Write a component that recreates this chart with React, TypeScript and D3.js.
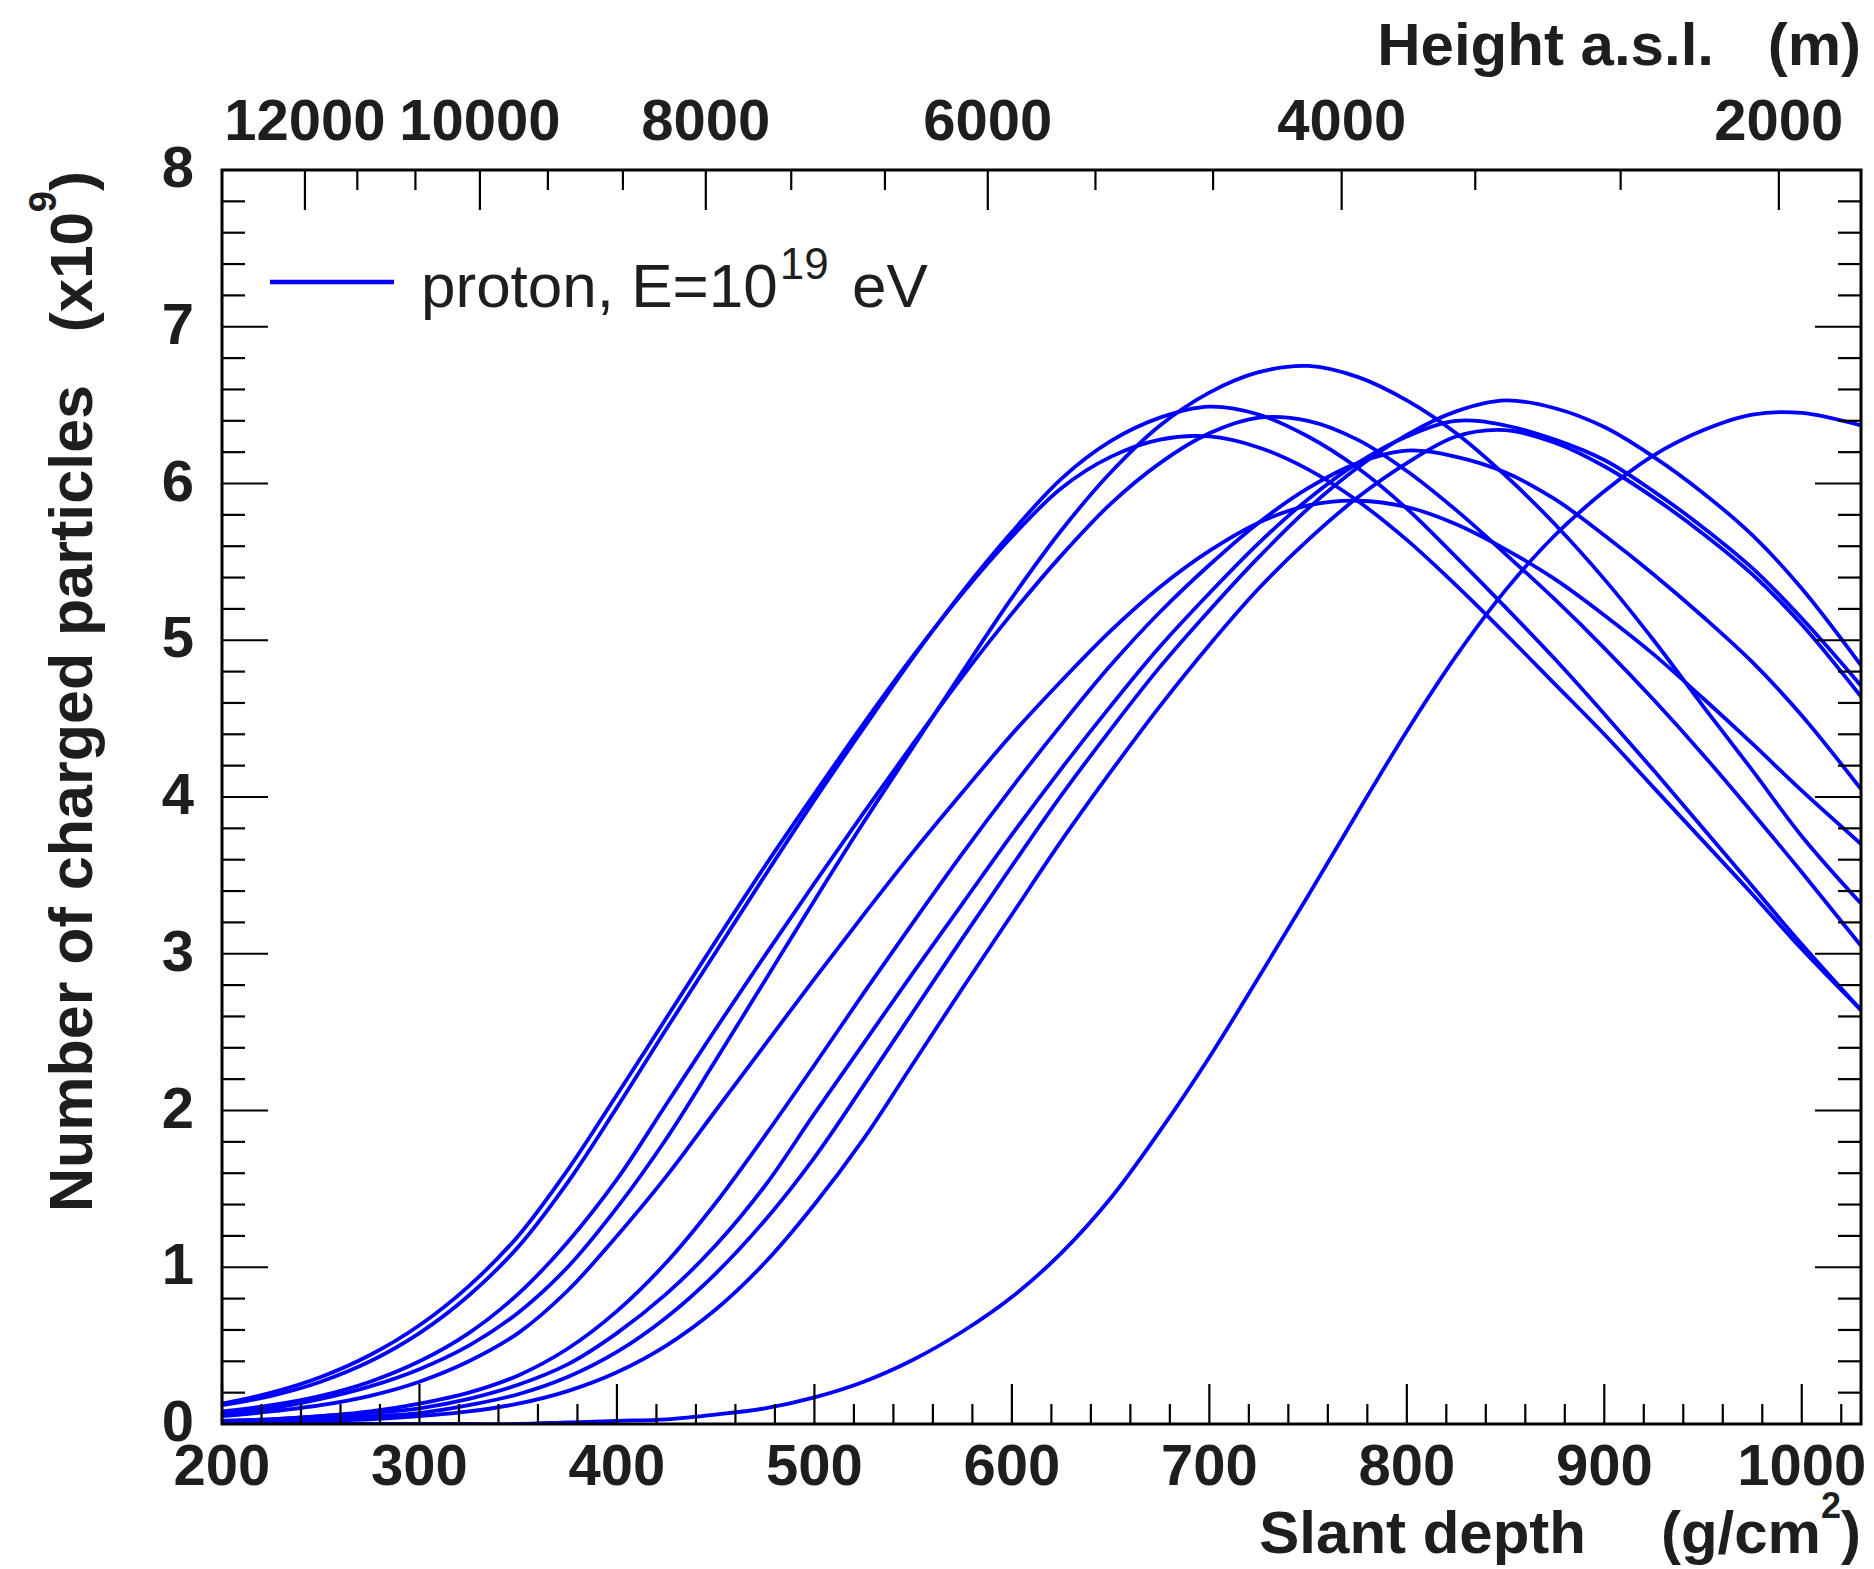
import React from 'react';
import * as d3 from 'd3';

// slant depth grid (g/cm^2)
const depthGrid = [200, 225, 250, 275, 300, 325, 350, 375, 400, 425, 450, 475, 500, 525, 550, 575, 600, 625, 650, 675, 700, 725, 750, 775, 800, 825, 850, 875, 900, 925, 950, 975, 1000, 1030];

// number of charged particles (x10^9) per shower
const showerA = [0.07, 0.10, 0.16, 0.24, 0.35, 0.50, 0.71, 1.00, 1.38, 1.82, 2.32, 2.83, 3.34, 3.84, 4.32, 4.80, 5.27, 5.70, 6.07, 6.37, 6.58, 6.71, 6.75, 6.68, 6.53, 6.32, 6.05, 5.74, 5.39, 5.00, 4.58, 4.17, 3.75, 3.32];
const showerB = [0.12, 0.18, 0.27, 0.40, 0.58, 0.82, 1.13, 1.54, 2.02, 2.52, 3.01, 3.50, 3.98, 4.44, 4.89, 5.31, 5.69, 6.03, 6.27, 6.42, 6.49, 6.44, 6.30, 6.10, 5.84, 5.53, 5.21, 4.88, 4.53, 4.17, 3.80, 3.43, 3.06, 2.64];
const showerC = [0.08, 0.12, 0.18, 0.27, 0.40, 0.58, 0.83, 1.16, 1.56, 2.04, 2.52, 2.99, 3.45, 3.90, 4.34, 4.77, 5.17, 5.54, 5.87, 6.13, 6.32, 6.42, 6.40, 6.28, 6.08, 5.83, 5.55, 5.26, 4.95, 4.62, 4.27, 3.90, 3.52, 3.05];
const showerD = [0.13, 0.20, 0.30, 0.44, 0.63, 0.88, 1.20, 1.62, 2.10, 2.59, 3.08, 3.56, 4.02, 4.47, 4.90, 5.30, 5.66, 5.97, 6.17, 6.28, 6.30, 6.23, 6.09, 5.89, 5.64, 5.35, 5.04, 4.72, 4.40, 4.06, 3.72, 3.38, 3.03, 2.64];
const showerE = [0.05, 0.08, 0.12, 0.18, 0.27, 0.40, 0.58, 0.85, 1.20, 1.58, 2.00, 2.42, 2.84, 3.25, 3.65, 4.03, 4.40, 4.74, 5.06, 5.34, 5.57, 5.75, 5.86, 5.89, 5.85, 5.74, 5.58, 5.39, 5.16, 4.91, 4.63, 4.34, 4.04, 3.70];
const showerF = [0.01, 0.02, 0.03, 0.05, 0.07, 0.12, 0.19, 0.30, 0.46, 0.68, 0.96, 1.30, 1.70, 2.16, 2.63, 3.10, 3.56, 4.01, 4.43, 4.83, 5.19, 5.53, 5.84, 6.10, 6.31, 6.46, 6.53, 6.48, 6.36, 6.17, 5.94, 5.67, 5.33, 4.84];
const showerG = [0.02, 0.03, 0.05, 0.07, 0.10, 0.16, 0.25, 0.38, 0.58, 0.83, 1.14, 1.52, 1.98, 2.43, 2.88, 3.32, 3.76, 4.18, 4.58, 4.96, 5.30, 5.62, 5.90, 6.13, 6.30, 6.40, 6.37, 6.28, 6.15, 5.95, 5.72, 5.46, 5.14, 4.71];
const showerH = [0.00, 0.01, 0.02, 0.03, 0.05, 0.08, 0.13, 0.21, 0.33, 0.50, 0.73, 1.03, 1.40, 1.82, 2.30, 2.78, 3.25, 3.72, 4.16, 4.58, 4.97, 5.33, 5.64, 5.91, 6.13, 6.30, 6.34, 6.26, 6.11, 5.91, 5.68, 5.42, 5.10, 4.64];
const showerI = [0.02, 0.03, 0.05, 0.08, 0.13, 0.20, 0.31, 0.48, 0.72, 1.03, 1.41, 1.84, 2.29, 2.75, 3.20, 3.64, 4.06, 4.46, 4.84, 5.18, 5.48, 5.75, 5.97, 6.13, 6.21, 6.17, 6.07, 5.90, 5.67, 5.42, 5.15, 4.86, 4.52, 4.05];
const showerJ = [0.00, 0.00, 0.00, 0.00, 0.00, 0.00, 0.00, 0.01, 0.02, 0.03, 0.06, 0.10, 0.17, 0.27, 0.41, 0.59, 0.81, 1.09, 1.44, 1.87, 2.34, 2.85, 3.37, 3.90, 4.42, 4.90, 5.32, 5.67, 5.95, 6.18, 6.34, 6.44, 6.45, 6.37];

const showers = [showerA, showerB, showerC, showerD, showerE, showerF, showerG, showerH, showerI, showerJ];

// axes
const xDomain = [200, 1030];
const yDomain = [0, 8];
const xMajorTicks = [200, 300, 400, 500, 600, 700, 800, 900, 1000];
const yMajorTicks = [0, 1, 2, 3, 4, 5, 6, 7, 8];

// top axis: height a.s.l. (m) and the slant depth it corresponds to
const heightLabels = [12000, 10000, 8000, 6000, 4000, 2000];
const depthAtHeight = [242, 330.6, 445, 587.8, 767, 988.4];

const FONT = "'Liberation Sans', Arial, Helvetica, sans-serif";
const INK = '#1e1e1e';
const BLUE = '#0000ff';

export default function App() {
  React.useEffect(() => {
    document.body.style.margin = '0';
  }, []);

  const W = 1874;
  const H = 1569;
  const left = 222, right = 1861, top = 170, bottom = 1424;

  const x = d3.scaleLinear().domain(xDomain).range([left, right]);
  const y = d3.scaleLinear().domain(yDomain).range([bottom, top]);

  const xMinor = d3.range(200, 1030, 20).filter((v) => v % 100 !== 0);
  const yMinor = d3.range(0, 8.0001, 0.2).filter((v) => Math.abs(v - Math.round(v)) > 1e-6);

  const logDepth = d3.scaleLinear().domain(heightLabels).range(depthAtHeight.map(Math.log));
  const heightToX = (h: number) => x(Math.exp(logDepth(h)));
  const heightMinor = d3
    .range(0, 16)
    .map((i) => 2000 + (i * 2000) / 3)
    .filter((h) => h <= 12000 && !heightLabels.some((l) => Math.abs(l - h) < 1));

  const line = d3
    .line<number>()
    .x((_, i) => x(depthGrid[i]))
    .y((v) => y(v))
    .curve(d3.curveCatmullRom.alpha(0.5));

  const majorLen = 46, minorLen = 23; // y-axis ticks
  const xMajorLen = 40, xMinorLen = 20; // x-axis ticks

  return (
    <svg width={W} height={H} viewBox={`0 0 ${W} ${H}`} style={{ display: 'block', background: '#fff' }}>
      <rect x={0} y={0} width={W} height={H} fill="#fff" />
      <defs>
        <clipPath id="plotclip">
          <rect x={left} y={top} width={right - left} height={bottom - top} />
        </clipPath>
      </defs>

      {/* curves */}
      <g clipPath="url(#plotclip)">
        {showers.map((s, i) => (
          <path key={i} d={line(s) || ''} fill="none" stroke={BLUE} strokeWidth={3.8} strokeLinejoin="round" />
        ))}
      </g>

      {/* frame */}
      <rect x={left} y={top} width={right - left} height={bottom - top} fill="none" stroke="#000" strokeWidth={3} />

      <g stroke="#000" strokeWidth={2.2}>
        {/* bottom axis ticks */}
        {xMajorTicks.map((v) => (
          <line key={'xM' + v} x1={x(v)} x2={x(v)} y1={bottom} y2={bottom - xMajorLen} />
        ))}
        {xMinor.map((v) => (
          <line key={'xm' + v} x1={x(v)} x2={x(v)} y1={bottom} y2={bottom - xMinorLen} />
        ))}
        {/* left and right axis ticks */}
        {yMajorTicks.map((v) => (
          <g key={'yM' + v}>
            <line x1={left} x2={left + majorLen} y1={y(v)} y2={y(v)} />
            <line x1={right} x2={right - majorLen} y1={y(v)} y2={y(v)} />
          </g>
        ))}
        {yMinor.map((v) => (
          <g key={'ym' + v}>
            <line x1={left} x2={left + minorLen} y1={y(v)} y2={y(v)} />
            <line x1={right} x2={right - minorLen} y1={y(v)} y2={y(v)} />
          </g>
        ))}
        {/* top (height) axis ticks */}
        {heightLabels.map((h) => (
          <line key={'hM' + h} x1={heightToX(h)} x2={heightToX(h)} y1={top} y2={top + xMajorLen} />
        ))}
        {heightMinor.map((h) => (
          <line key={'hm' + h} x1={heightToX(h)} x2={heightToX(h)} y1={top} y2={top + xMinorLen} />
        ))}
      </g>

      {/* tick labels */}
      <g fontFamily={FONT} fontWeight="bold" fontSize={58} fill={INK}>
        {xMajorTicks.map((v) => (
          <text key={'xl' + v} x={x(v)} y={1485} textAnchor="middle">
            {v}
          </text>
        ))}
        {yMajorTicks.map((v) => (
          <text key={'yl' + v} x={194} y={y(v) + 17} textAnchor="end">
            {v}
          </text>
        ))}
        {heightLabels.map((h) => (
          <text key={'hl' + h} x={heightToX(h)} y={140} textAnchor="middle">
            {h}
          </text>
        ))}
      </g>

      {/* axis titles */}
      <g fontFamily={FONT} fontWeight="bold" fontSize={60} fill={INK}>
        <text x={1586} y={1553} textAnchor="end">Slant depth</text>
        <text x={1861} y={1553} textAnchor="end">
          (g/cm
          <tspan fontSize={36} dy={-35}>2</tspan>
          <tspan dy={35}>)</tspan>
        </text>
        <text x={1714} y={65} textAnchor="end">Height a.s.l.</text>
        <text x={1861} y={65} textAnchor="end">(m)</text>
        <g transform="translate(92,385) rotate(-90)">
          <text x={0} y={0} textAnchor="end" fontSize={61}>Number of charged particles</text>
        </g>
        <g transform="translate(92,171) rotate(-90)">
          <text x={0} y={0} textAnchor="end">
            (x10
            <tspan fontSize={38} dy={-36}>9</tspan>
            <tspan dy={36}>)</tspan>
          </text>
        </g>
      </g>

      {/* legend */}
      <line x1={270} x2={394} y1={282} y2={282} stroke={BLUE} strokeWidth={4.5} />
      <text x={421} y={307} fontFamily={FONT} fontSize={62} fill={INK}>
        proton, E=10
        <tspan fontSize={44} dy={-28} dx={2}>19</tspan>
        <tspan dy={28} dx={6}> eV</tspan>
      </text>
    </svg>
  );
}
